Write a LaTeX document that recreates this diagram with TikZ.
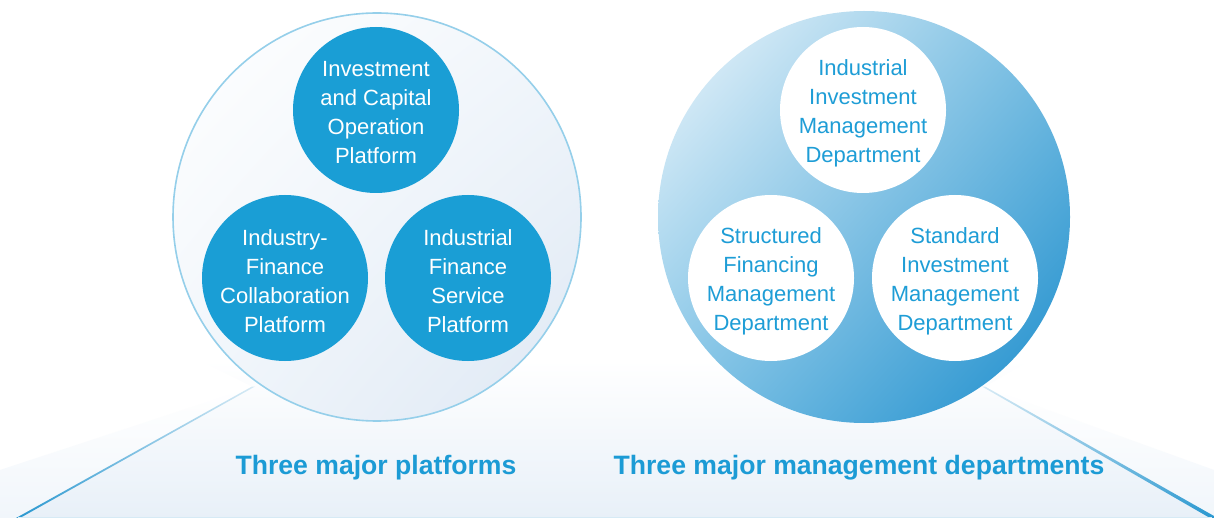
\documentclass[tikz,border=0pt]{standalone}
\usepackage{fontspec}
\setmainfont{Liberation Sans}
\usetikzlibrary{shadings}
\definecolor{platblue}{HTML}{1A9ED5}
\definecolor{deptblue}{HTML}{1E9DD6}
\definecolor{titleblue}{HTML}{1C9BD5}
\definecolor{pale}{HTML}{E8F0F8}
\definecolor{palefade}{HTML}{F1F6FB}
\definecolor{ringblue}{HTML}{95CFEA}
\definecolor{linelight}{HTML}{D6EAF5}
\definecolor{linedark}{HTML}{2A98D0}
\definecolor{lcLR}{RGB}{222,232,244}
\definecolor{rcUL}{RGB}{240,247,252}
\definecolor{rcUR}{RGB}{120,190,226}
\definecolor{rcLL}{RGB}{130,196,230}
\definecolor{rcLR}{RGB}{26,140,204}
\begin{document}
\begin{tikzpicture}[x=1pt,y=-1pt,
  lab/.style={align=center, font=\fontsize{22}{29}\selectfont, yshift=-3pt},
  smallA/.style={circle, fill=platblue, minimum size=166pt, inner sep=0pt, label={[lab, text=white]center:#1}},
  smallB/.style={circle, fill=white, minimum size=166pt, inner sep=0pt, label={[lab, text=deptblue]center:#1}},
  title/.style={text=titleblue, font=\bfseries\fontsize{26.6}{32}\selectfont, anchor=base}
]
\useasboundingbox (0,0) rectangle (1214,518);
\fill[white] (0,0) rectangle (1214,518);
% bottom band
\shade[top color=white, bottom color=palefade] (253,387) -- (0,470) -- (0,518) -- (18,518) -- cycle;
\shade[top color=white, bottom color=palefade] (984,387) -- (1214,470) -- (1214,518) -- (1212,518) -- cycle;
\shade[top color=white, bottom color=pale] (200,360) -- (1030,360) -- (984,387) -- (1212,518) -- (18,518) -- (253,387) -- cycle;
% diagonal lines
\shade[top color=linelight, bottom color=linedark] (252,386.5) -- (255,386.5) -- (20,518) -- (16,518) -- cycle;
\shade[top color=linelight, bottom color=linedark] (982,386.5) -- (985,386.5) -- (1214,516) -- (1214,518) -- (1210,518) -- cycle;
\draw[linelight, line width=1.2pt] (18,517.4) -- (1212,517.4);
% left big circle
\node[circle, minimum size=408pt, inner sep=0pt, draw=ringblue, line width=1.6pt,
  shade, upper left=white, upper right=palefade, lower left=palefade, lower right=lcLR] (L) at (377,217) {};
% right big circle
\node[circle, minimum size=412pt, inner sep=0pt,
  shade, upper left=rcUL, upper right=rcUR, lower left=rcLL, lower right=rcLR] (R) at (864,217) {};
% platforms
\node[smallA={Investment\\and Capital\\Operation\\Platform}] (p1) at (376,110) {};
\node[smallA={Industry-\\Finance\\Collaboration\\Platform}] (p2) at (285,278) {};
\node[smallA={Industrial\\Finance\\Service\\Platform}] (p3) at (468,278) {};
% departments
\node[smallB={Industrial\\Investment\\Management\\Department}] (d1) at (863,110) {};
\node[smallB={Structured\\Financing\\Management\\Department}] (d2) at (771,278) {};
\node[smallB={Standard\\Investment\\Management\\Department}] (d3) at (955,278) {};
% titles
\node[title] (t1) at (376,474) {Three major platforms};
\node[title] (t2) at (859,474) {Three major management departments};
\end{tikzpicture}
\end{document}
